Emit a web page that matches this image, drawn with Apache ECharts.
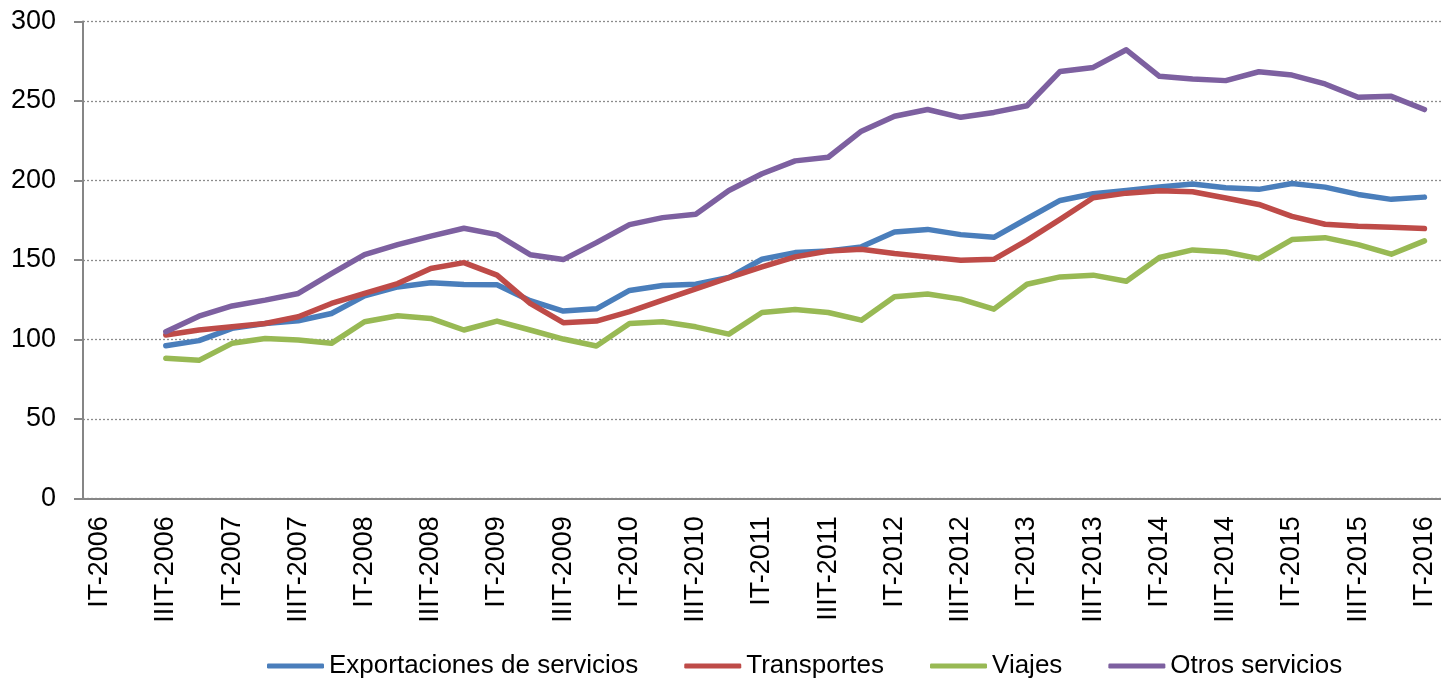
<!DOCTYPE html>
<html>
<head>
<meta charset="utf-8">
<script src="https://cdn.jsdelivr.net/npm/echarts@6/dist/echarts.min.js"></script>
<style>
  html, body { margin: 0; padding: 0; background: #fff; }
  #chart { width: 1441px; height: 678px; }
</style>
</head>
<body>
<div id="chart"></div>
<script>
// trimestres IT-2006 ... IT-2016
let years = [2006, 2007, 2008, 2009, 2010, 2011, 2012, 2013, 2014, 2015]
let quarters = ['IT', 'IIT', 'IIIT', 'IVT']
let categories = []
years.forEach(y => quarters.forEach(q => categories.push(q + '-' + y)))
categories.push('IT-2016')

// series (no data for IT-2006 and IIT-2006)
let exportaciones = [null, null,
  96, 99.2, 106.9, 110, 111.7, 116.3, 127.4, 133, 135.6, 134.5,
  134.3, 124.3, 117.8, 119.2, 130.8, 133.9, 134.7, 138.9, 150.4, 154.6,
  155.6, 158.2, 167.6, 169.2, 165.9, 164.2, 175.9, 187.4, 191.6, 193.7,
  195.8, 197.7, 195.4, 194.4, 198.1, 195.8, 191.2, 188.1, 189.5]
let transportes = [null, null,
  102.7, 105.9, 108, 110, 114.2, 122.6, 128.9, 135.1, 144.6, 148.3,
  140.4, 122.6, 110.5, 111.5, 117.4, 124.7, 131.8, 138.9, 145.6, 151.9,
  155.6, 156.7, 154, 151.9, 149.8, 150.4, 162.3, 175.5, 189.1, 192,
  193.5, 192.9, 188.9, 184.9, 177.4, 172.4, 171.1, 170.5, 169.7]
let viajes = [null, null,
  88.1, 86.8, 97.5, 100.6, 99.6, 97.5, 111.1, 114.9, 113.2, 105.9,
  111.5, 105.9, 100.2, 95.8, 110, 111.1, 107.9, 103.3, 116.9, 118.8,
  116.9, 112.1, 126.8, 128.5, 125.3, 119, 134.7, 139.3, 140.4, 136.6,
  151.5, 156.3, 155, 150.8, 162.8, 164, 159.6, 153.6, 162]
let otros = [null, null,
  104.8, 114.6, 121, 124.7, 128.9, 141.4, 153.3, 159.6, 165, 169.9,
  165.9, 153.3, 150.2, 160.9, 172.2, 176.6, 178.7, 193.7, 204.2, 212.3,
  214.6, 231, 240.4, 244.6, 239.7, 242.8, 247, 268.6, 271.1, 282.2,
  265.5, 263.8, 262.8, 268.4, 266.3, 260.7, 252.3, 252.9, 244.6]

let names = ['Exportaciones de servicios', 'Transportes', 'Viajes', 'Otros servicios']
let colors = ['#4a7ebb', '#be4b48', '#98b954', '#7d60a0']
let seriesData = [exportaciones, transportes, viajes, otros]

let font = "'Liberation Sans', Arial, sans-serif"
let axisGray = '#868686'

var myChart = echarts.init(document.getElementById('chart'))
let option = {
  animation: false,
  grid: { left: 83, right: -4, top: 21.5, bottom: 179.7 },
  legend: {
    top: 648,
    left: 262,
    icon: 'roundRect',
    itemWidth: 57,
    itemHeight: 5,
    itemGap: 46,
    textStyle: { fontFamily: font, fontSize: 26, color: '#000' },
    data: names
  },
  xAxis: {
    type: 'category',
    data: categories,
    boundaryGap: true,
    axisLine: { lineStyle: { color: axisGray, width: 2 } },
    axisTick: { interval: 0, length: 8, lineStyle: { color: axisGray, width: 2 } },
    axisLabel: {
      interval: 1,
      rotate: 90,
      margin: 18,
      fontFamily: font,
      fontSize: 27,
      color: '#000'
    },
    splitLine: { show: false }
  },
  yAxis: {
    type: 'value',
    min: 0,
    max: 300,
    interval: 50,
    axisLine: { show: true, lineStyle: { color: axisGray, width: 2 } },
    axisTick: { show: true, length: 9, lineStyle: { color: axisGray, width: 2 } },
    axisLabel: { margin: 27, fontFamily: font, fontSize: 27, color: '#000' },
    splitLine: { lineStyle: { color: '#8c8c8c', width: 1.3, type: [2, 2] } }
  },
  series: names.map((n, i) => ({
    name: n,
    type: 'line',
    data: seriesData[i],
    symbol: 'none',
    color: colors[i],
    lineStyle: { width: 5.5, color: colors[i], cap: 'round', join: 'round' }
  }))
}
myChart.setOption(option)
</script>
</body>
</html>
